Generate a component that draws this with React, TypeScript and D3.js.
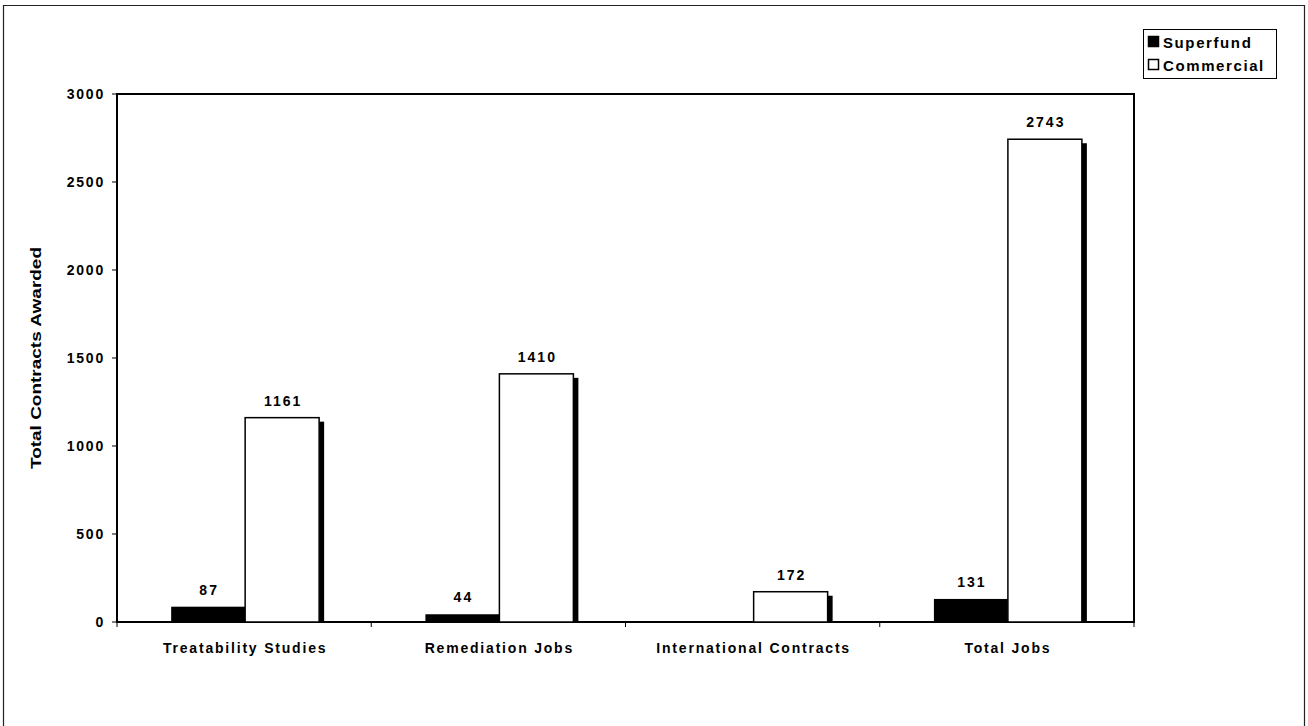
import { useEffect, useRef } from 'react';
import * as d3 from 'd3';

const categories = ['Treatability Studies', 'Remediation Jobs', 'International Contracts', 'Total Jobs'];
const superfund = [87, 44, 0, 131];
const commercial = [1161, 1410, 172, 2743];
const seriesNames = ['Superfund', 'Commercial'];
const yTicks = [0, 500, 1000, 1500, 2000, 2500, 3000];

const W = 1308;
const H = 726;
const font = 'Arial, "Liberation Sans", sans-serif';

const App = () => {
    const svgRef = useRef<SVGSVGElement>(null);

    useEffect(() => {
        const svg = d3.select(svgRef.current);
        svg.selectAll('*').remove();

        const m = { left: 117, right: 1134, top: 94, bottom: 622 };

        // outer frame
        svg.append('path')
            .attr('d', `M3.5,${H + 2} V5.5 H1304.5 V${H + 2}`)
            .attr('fill', 'none')
            .attr('stroke', '#222')
            .attr('stroke-width', 1.2);

        const x0 = d3.scaleBand().domain(categories).range([m.left, m.right]).padding(0);
        const x1 = d3.scaleBand().domain(seriesNames)
            .range([x0.bandwidth() * 0.213, x0.bandwidth() * 0.795]).padding(0);
        const y = d3.scaleLinear().domain([0, 3000]).range([m.bottom, m.top]);

        // plot frame
        svg.append('rect')
            .attr('x', m.left).attr('y', m.top)
            .attr('width', m.right - m.left).attr('height', m.bottom - m.top)
            .attr('fill', 'none').attr('stroke', '#000').attr('stroke-width', 2);

        const label = (sel: any, size: number, spacing: number) =>
            sel.style('font-family', font).style('font-size', `${size}px`).style('font-weight', 'bold')
                .style('letter-spacing', `${spacing}px`);

        // y ticks
        const yg = svg.append('g');
        yTicks.forEach(t => {
            yg.append('line')
                .attr('x1', m.left - 5).attr('x2', m.left)
                .attr('y1', y(t)).attr('y2', y(t))
                .attr('stroke', '#000').attr('stroke-width', 1);
            label(yg.append('text')
                .attr('x', 105).attr('y', y(t))
                .attr('dy', '0.35em')
                .attr('text-anchor', 'end'), 14, 1.8)
                .text(t);
        });

        // x ticks at category boundaries
        const bounds = categories.map(c => x0(c) as number).concat([m.right]);
        bounds.forEach(b => {
            svg.append('line')
                .attr('x1', b).attr('x2', b)
                .attr('y1', m.bottom).attr('y2', m.bottom + 5)
                .attr('stroke', '#000').attr('stroke-width', 1);
        });

        categories.forEach((c, i) => {
            const gx = x0(c) as number;
            // superfund bar
            const sx = gx + (x1('Superfund') as number);
            if (superfund[i] > 0) {
                svg.append('rect')
                    .attr('x', sx).attr('y', y(superfund[i]))
                    .attr('width', x1.bandwidth()).attr('height', m.bottom - y(superfund[i]))
                    .attr('fill', '#000');
                label(svg.append('text')
                    .attr('x', sx + x1.bandwidth() / 2 + 1).attr('y', y(superfund[i]) - 12)
                    .attr('text-anchor', 'middle'), 14, 2)
                    .text(superfund[i]);
            }
            // commercial bar with shadow
            const cx = gx + (x1('Commercial') as number);
            svg.append('rect')
                .attr('x', cx + x1.bandwidth()).attr('y', y(commercial[i]) + 4)
                .attr('width', 5).attr('height', m.bottom - y(commercial[i]) - 4)
                .attr('fill', '#000');
            svg.append('rect')
                .attr('x', cx).attr('y', y(commercial[i]))
                .attr('width', x1.bandwidth()).attr('height', m.bottom - y(commercial[i]))
                .attr('fill', '#fff').attr('stroke', '#000').attr('stroke-width', 1.5);
            label(svg.append('text')
                .attr('x', cx + x1.bandwidth() / 2 + 1).attr('y', y(commercial[i]) - 12)
                .attr('text-anchor', 'middle'), 14, 2)
                .text(commercial[i]);

            // category label
            label(svg.append('text')
                .attr('x', gx + x0.bandwidth() / 2 + 1).attr('y', 653)
                .attr('text-anchor', 'middle'), 14, 1.8)
                .text(c);
        });

        // y axis title
        svg.append('text')
            .attr('transform', `translate(41, 358) rotate(-90)`)
            .attr('text-anchor', 'middle')
            .attr('textLength', 222)
            .attr('lengthAdjust', 'spacingAndGlyphs')
            .style('font-family', font).style('font-size', '14px').style('font-weight', 'bold')
            .text('Total Contracts Awarded');

        // legend
        const lg = svg.append('g');
        lg.append('rect')
            .attr('x', 1143.5).attr('y', 29.5).attr('width', 133).attr('height', 49)
            .attr('fill', '#fff').attr('stroke', '#000').attr('stroke-width', 1);
        seriesNames.forEach((s, i) => {
            const ly = 43 + i * 23;
            lg.append('rect')
                .attr('x', 1148.5).attr('y', ly - 6.5).attr('width', 10).attr('height', 10)
                .attr('fill', i === 0 ? '#000' : '#fff').attr('stroke', '#000').attr('stroke-width', 1.5);
            label(lg.append('text')
                .attr('x', 1163).attr('y', ly + 4.5), 15, 1.6)
                .text(s);
        });
    }, []);

    return <svg ref={svgRef} width={W} height={H} style={{ position: 'absolute', left: 0, top: 0, background: '#fff' }}></svg>;
};

export default App;
